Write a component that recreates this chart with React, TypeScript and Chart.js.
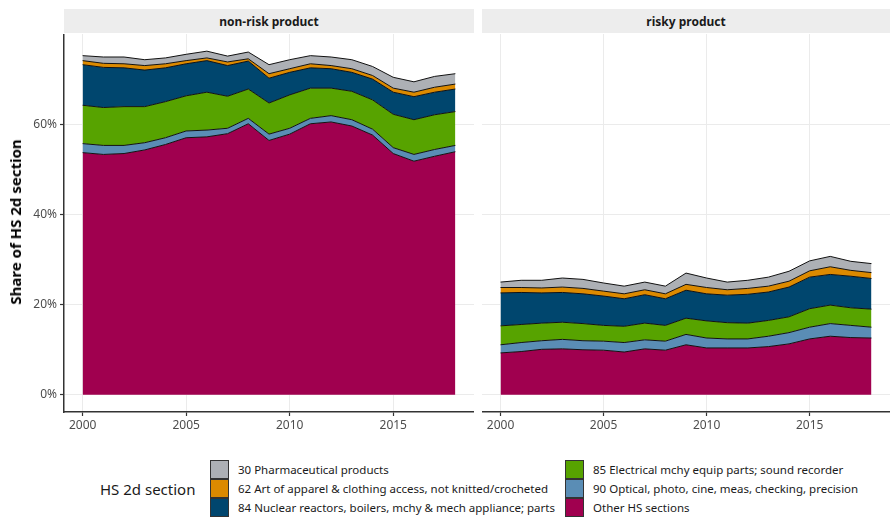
import React, { useEffect, useRef } from 'react';
import { Chart, registerables } from 'chart.js';

Chart.register(...registerables);

const years = [2000, 2001, 2002, 2003, 2004, 2005, 2006, 2007, 2008, 2009, 2010, 2011, 2012, 2013, 2014, 2015, 2016, 2017, 2018];

const panelTitles = ['non-risk product', 'risky product'];
const yTickValues = [0, 20, 40, 60];
const xTickValues = [2000, 2005, 2010, 2015];

// Legend order (top of stack first)
const seriesNames = [
  '30 Pharmaceutical products',
  '62 Art of apparel & clothing access, not knitted/crocheted',
  '84 Nuclear reactors, boilers, mchy & mech appliance; parts',
  '85 Electrical mchy equip parts; sound recorder',
  '90 Optical, photo, cine, meas, checking, precision',
  'Other HS sections',
];
const seriesColors = ['#ADB0B5', '#DC8A00', '#00466E', '#57A300', '#5A8DB5', '#A0004F'];

// non-risk product shares (%)
const nrPharma = [1.1, 1.4, 1.5, 1.3, 1.3, 1.4, 1.5, 1.3, 1.5, 2.0, 2.0, 1.8, 1.9, 2.0, 2.0, 2.4, 2.3, 2.4, 2.3];
const nrApparel = [0.9, 0.9, 0.9, 1.0, 0.9, 0.7, 0.6, 0.8, 0.5, 1.0, 0.8, 0.9, 0.7, 0.8, 0.8, 0.9, 1.0, 1.1, 1.1];
const nrNuclear = [9.0, 8.9, 8.6, 8.1, 7.5, 7.1, 7.0, 6.8, 6.2, 5.5, 5.0, 4.5, 4.3, 4.2, 4.6, 4.9, 5.1, 5.0, 5.0];
const nrElectrical = [8.5, 8.4, 8.6, 8.0, 8.0, 7.8, 8.4, 7.1, 6.5, 6.9, 7.4, 6.7, 6.1, 6.3, 6.5, 7.4, 7.7, 7.7, 7.5];
const nrOptical = [2.0, 2.0, 1.8, 1.6, 1.5, 1.5, 1.5, 1.2, 1.2, 1.4, 1.3, 1.2, 1.4, 1.4, 1.3, 1.3, 1.5, 1.5, 1.4];
const nrOther = [53.7, 53.3, 53.5, 54.3, 55.5, 57.0, 57.2, 57.9, 60.1, 56.4, 57.8, 60.1, 60.5, 59.6, 57.6, 53.5, 51.8, 52.9, 53.9];

// risky product shares (%)
const rPharma = [1.2, 1.6, 1.7, 2.0, 2.0, 1.8, 1.7, 1.7, 1.7, 2.5, 2.1, 1.7, 1.8, 2.0, 2.2, 2.2, 2.3, 2.0, 2.0];
const rApparel = [1.2, 1.1, 1.1, 1.2, 1.2, 1.1, 1.1, 1.1, 1.1, 1.3, 1.4, 1.2, 1.3, 1.3, 1.3, 1.4, 1.7, 1.3, 1.3];
const rNuclear = [7.3, 7.1, 6.7, 6.6, 6.6, 6.5, 6.1, 6.3, 5.9, 6.2, 6.0, 6.1, 6.4, 6.3, 6.6, 7.0, 6.8, 7.0, 6.8];
const rElectrical = [4.2, 4.0, 3.9, 3.8, 3.8, 3.5, 3.6, 3.7, 3.5, 3.6, 3.8, 3.6, 3.5, 3.5, 3.5, 4.1, 4.1, 3.9, 4.0];
const rOptical = [1.8, 2.0, 1.9, 2.1, 2.0, 2.0, 2.1, 2.0, 2.0, 2.3, 2.2, 2.0, 2.0, 2.3, 2.5, 2.6, 2.8, 2.7, 2.4];
const rOther = [9.3, 9.6, 10.1, 10.2, 10.0, 9.9, 9.5, 10.2, 9.9, 11.1, 10.4, 10.4, 10.4, 10.7, 11.3, 12.4, 13.0, 12.7, 12.6];

const nonRiskSeries = [nrPharma, nrApparel, nrNuclear, nrElectrical, nrOptical, nrOther];
const riskySeries = [rPharma, rApparel, rNuclear, rElectrical, rOptical, rOther];

const FONT = "'Noto Sans', 'Open Sans', sans-serif";
const AXIS_COLOR = '#333333';
const GRID_COLOR = '#EBEBEB';
const TEXT_COLOR = '#4D4D4D';
const CANVAS_H = 408;

function Panel({ series, showY, left, width }: { series: number[][]; showY: boolean; left: number; width: number }) {
  const ref = useRef<HTMLCanvasElement | null>(null);
  useEffect(() => {
    if (!ref.current) return;
    // bottom of stack first
    const order = [5, 4, 3, 2, 1, 0];
    const datasets = order.map((idx, i) => ({
      label: seriesNames[idx],
      data: years.map((yr, j) => ({ x: yr, y: series[idx][j] })),
      backgroundColor: seriesColors[idx],
      borderColor: '#111111',
      borderWidth: 1,
      pointRadius: 0,
      tension: 0,
      fill: i === 0 ? 'origin' : '-1',
    }));
    const chart = new Chart(ref.current, {
      type: 'line',
      data: { datasets: datasets as any },
      options: {
        animation: false,
        responsive: false,
        layout: { padding: 0 },
        plugins: { legend: { display: false }, tooltip: { enabled: false } },
        scales: {
          x: {
            type: 'linear',
            min: 1999.1,
            max: 2018.9,
            afterBuildTicks: (s: any) => {
              s.ticks = xTickValues.map((v) => ({ value: v }));
            },
            ticks: {
              autoSkip: false,
              maxRotation: 0,
              color: TEXT_COLOR,
              padding: 2,
              font: { family: FONT, size: 12 },
              callback: (v: any) => String(v),
            },
            grid: { color: GRID_COLOR, lineWidth: 1, tickLength: 4, tickColor: AXIS_COLOR, tickWidth: 1.2 },
            border: { display: true, color: AXIS_COLOR, width: 1.5 },
            afterFit: (s: any) => {
              s.height = 30;
              s.paddingLeft = 0;
              s.paddingRight = 0;
            },
          },
          y: {
            type: 'linear',
            stacked: true,
            min: -3.8,
            max: 80,
            afterBuildTicks: (s: any) => {
              s.ticks = yTickValues.map((v) => ({ value: v }));
            },
            ticks: {
              display: showY,
              color: TEXT_COLOR,
              padding: 3,
              font: { family: FONT, size: 12 },
              callback: (v: any) => v + '%',
            },
            grid: { color: GRID_COLOR, lineWidth: 1, tickLength: 4, drawTicks: showY, tickColor: AXIS_COLOR, tickWidth: 1.2 },
            border: { display: showY, color: AXIS_COLOR, width: 1.5 },
            afterFit: (s: any) => {
              s.width = showY ? 64 : 0;
              s.paddingTop = 0;
              s.paddingBottom = 0;
            },
          },
        },
      } as any,
    });
    return () => chart.destroy();
  }, [series, showY]);
  return (
    <canvas
      ref={ref}
      width={width}
      height={CANVAS_H}
      style={{ position: 'absolute', left, top: 34, width, height: CANVAS_H }}
    />
  );
}

export default function App() {
  const legendRows = [0, 1, 2];
  return (
    <div style={{ position: 'absolute', left: 0, top: 0, width: 890, height: 520, background: '#FFFFFF', fontFamily: FONT, overflow: 'hidden' }}>
      <div style={{ position: 'absolute', left: 64, top: 9, width: 410, height: 24, background: '#EDEDED', display: 'flex', alignItems: 'center', justifyContent: 'center', fontWeight: 700, fontSize: 12, color: '#1A1A1A' }}>
        {panelTitles[0]}
      </div>
      <div style={{ position: 'absolute', left: 482, top: 9, width: 408, height: 24, background: '#EDEDED', display: 'flex', alignItems: 'center', justifyContent: 'center', fontWeight: 700, fontSize: 12, color: '#1A1A1A' }}>
        {panelTitles[1]}
      </div>
      <Panel series={nonRiskSeries} showY={true} left={0} width={474} />
      <Panel series={riskySeries} showY={false} left={482} width={408} />
      <div style={{ position: 'absolute', left: 15, top: 222, transform: 'translate(-50%, -50%) rotate(-90deg)', whiteSpace: 'nowrap', fontWeight: 700, fontSize: 15, color: '#000000' }}>
        Share of HS 2d section
      </div>
      <div style={{ position: 'absolute', left: 100, top: 479, fontSize: 15, color: '#1A1A1A', whiteSpace: 'nowrap', lineHeight: '20px' }}>
        HS 2d section
      </div>
      {[0, 1].map((col) =>
        legendRows.map((row) => {
          const idx = col * 3 + row;
          const sx = col === 0 ? 210 : 565;
          const tx = col === 0 ? 238 : 593;
          const top = 460 + row * 19;
          return (
            <React.Fragment key={idx}>
              <div style={{ position: 'absolute', left: sx, top, width: 17, height: 17, background: seriesColors[idx], border: '1px solid #333' }} />
              <div style={{ position: 'absolute', left: tx, top, height: 19, lineHeight: '19px', fontSize: 11.5, color: '#1A1A1A', whiteSpace: 'nowrap' }}>
                {seriesNames[idx]}
              </div>
            </React.Fragment>
          );
        })
      )}
    </div>
  );
}
